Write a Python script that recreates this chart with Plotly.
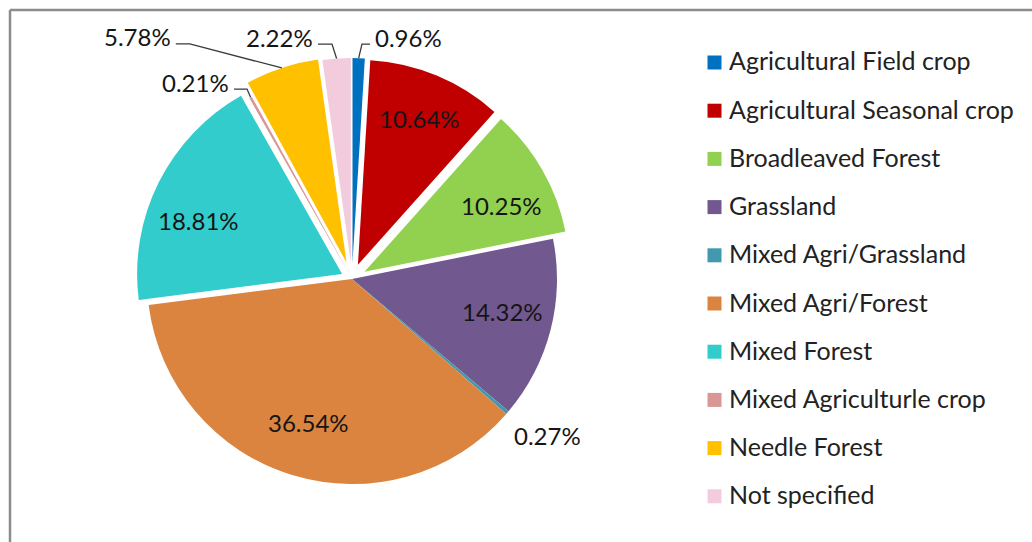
import math
import plotly.graph_objects as go

# Land-cover classes and their share of the total area (%)
categories = [
    "Agricultural Field crop",
    "Agricultural Seasonal crop",
    "Broadleaved Forest",
    "Grassland",
    "Mixed Agri/Grassland",
    "Mixed Agri/Forest",
    "Mixed Forest",
    "Mixed Agriculturle crop",
    "Needle Forest",
    "Not specified",
]
shares = [0.96, 10.64, 10.25, 14.32, 0.27, 36.54, 18.81, 0.21, 5.78, 2.22]

colors = [
    "#0070C0", "#C00000", "#92D050", "#71588F", "#4198AF",
    "#DA843F", "#33CCCC", "#D99694", "#FFC000", "#F2CCDD",
]
# exploded distance of each slice, as a fraction of the radius
pulls = [0.078, 0.075, 0.07, 0.0, 0.0, 0.0, 0.054, 0.015, 0.085, 0.078]

W, H = 1032, 542
CX, CY, R = 352.0, 279.0, 205.0          # pie centre and radius in pixels
LABEL_FONT = "Lato"
TEXT_COLOR = "#151515"

# inside labels: radial fraction and small pixel nudges
INSIDE_K = 0.75
inside_nudge = {
    "Agricultural Seasonal crop": (2, -4),
    "Broadleaved Forest": (4, 10),
    "Grassland": (2, -6),
    "Mixed Agri/Forest": (1, -4),
    "Mixed Forest": (-6, 15),
}
# outside labels: elbow offset from the slice edge and horizontal run (px)
outside_leader = {
    "Agricultural Field crop": (3.3, -14, 8),
    "Not specified": (-4.6, -14.5, -14),
    "Needle Forest": (-92, -24, -14),
    "Mixed Agriculturle crop": (-3.5, -8.3, -13),
}
no_leader = {"Mixed Agri/Grassland": (5, 23)}


def px(x, y):
    """pixel position -> paper coordinates (figure has no margins)"""
    return x / W, 1 - y / H


max_pull = max(pulls)
box = 2 * R * (1 + max_pull)
dom_x = [(CX - box / 2) / W, (CX + box / 2) / W]
dom_y = [1 - (CY + box / 2) / H, 1 - (CY - box / 2) / H]

fig = go.Figure(go.Pie(
    labels=categories,
    values=shares,
    sort=False,
    direction="clockwise",
    rotation=0,
    pull=pulls,
    marker=dict(colors=colors, line=dict(color="white", width=0)),
    textinfo="none",
    hoverinfo="label+percent",
    showlegend=False,
    domain=dict(x=dom_x, y=dom_y),
))

annotations = []
shapes = []

total = sum(shares)
cum = 0.0
for cat, val, pull in zip(categories, shares, pulls):
    mid = math.radians((cum + val / 2) / total * 360.0)
    cum += val
    dx, dy = math.sin(mid), -math.cos(mid)
    ox, oy = CX + pull * R * dx, CY + pull * R * dy   # slice apex after pull
    text = f"{val:.2f}%"
    if cat in inside_nudge:
        nx, ny = inside_nudge[cat]
        lx = ox + INSIDE_K * R * dx + nx
        ly = oy + INSIDE_K * R * dy + ny
        x, y = px(lx, ly)
        annotations.append(dict(x=x, y=y, xref="paper", yref="paper", text=text,
                                showarrow=False, xanchor="center", yanchor="middle",
                                font=dict(family=LABEL_FONT, size=24, color=TEXT_COLOR)))
    elif cat in outside_leader:
        ex, ey, run = outside_leader[cat]
        ax, ay = ox + R * dx, oy + R * dy          # point on the slice edge
        bx, by = ax + ex, ay + ey
        cx2 = bx + run
        p0, p1, p2 = px(ax, ay), px(bx, by), px(cx2, by)
        shapes.append(dict(type="path", xref="paper", yref="paper",
                           path=f"M{p0[0]},{p0[1]} L{p1[0]},{p1[1]} L{p2[0]},{p2[1]}",
                           line=dict(color="#3a3a3a", width=1.3)))
        tx = cx2 + (3 if run > 0 else -3)
        x, y = px(tx, by - 7)
        annotations.append(dict(x=x, y=y, xref="paper", yref="paper", text=text,
                                showarrow=False, xanchor="left" if run > 0 else "right",
                                yanchor="middle",
                                font=dict(family=LABEL_FONT, size=24, color=TEXT_COLOR)))
    elif cat in no_leader:
        ex, ey = no_leader[cat]
        ax, ay = ox + R * dx, oy + R * dy
        x, y = px(ax + ex, ay + ey)
        annotations.append(dict(x=x, y=y, xref="paper", yref="paper", text=text,
                                showarrow=False, xanchor="left", yanchor="middle",
                                font=dict(family=LABEL_FONT, size=24, color=TEXT_COLOR)))

# legend: coloured squares with class names
LEG_SQ_X, LEG_TXT_X, LEG_Y0, LEG_STEP, SQ = 714.5, 727, 62.5, 48.2, 14
for i, (cat, col) in enumerate(zip(categories, colors)):
    yc = LEG_Y0 + i * LEG_STEP
    x0, y0 = px(LEG_SQ_X - SQ / 2, yc - SQ / 2)
    x1, y1 = px(LEG_SQ_X + SQ / 2, yc + SQ / 2)
    shapes.append(dict(type="rect", xref="paper", yref="paper",
                       x0=x0, x1=x1, y0=y0, y1=y1,
                       fillcolor=col, line=dict(width=0)))
    tx, ty = px(LEG_TXT_X, yc - 2)
    annotations.append(dict(x=tx, y=ty, xref="paper", yref="paper", text=cat,
                            showarrow=False, xanchor="left", yanchor="middle",
                            font=dict(family=LABEL_FONT, size=25, color="#222222")))

# chart frame (top and left edges)
fx, fy = px(10, 10)
shapes.append(dict(type="line", xref="paper", yref="paper", x0=fx, x1=1.0, y0=fy, y1=fy,
                   line=dict(color="#8c8c8c", width=2.5)))
shapes.append(dict(type="line", xref="paper", yref="paper", x0=fx, x1=fx, y0=0.0, y1=fy,
                   line=dict(color="#8c8c8c", width=2.5)))

fig.update_layout(
    width=W, height=H,
    margin=dict(l=0, r=0, t=0, b=0),
    paper_bgcolor="white",
    plot_bgcolor="white",
    annotations=annotations,
    shapes=shapes,
)

fig.write_html("out.html")
